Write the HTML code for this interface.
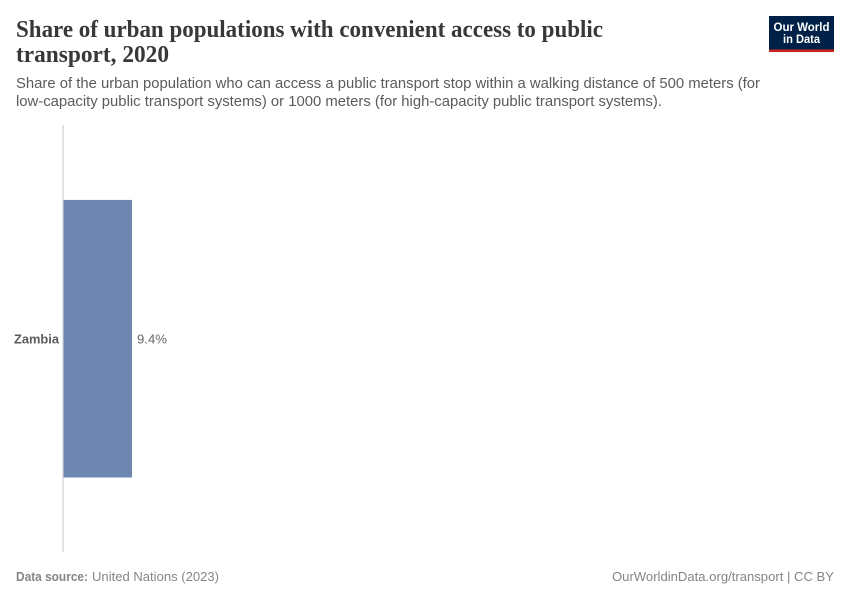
<!DOCTYPE html>
<html>
<head>
<meta charset="utf-8">
<title>Share of urban populations with convenient access to public transport, 2020</title>
<style>
html,body{margin:0;padding:0;background:#fff;width:850px;height:600px;overflow:hidden}
svg{display:block}
text{font-family:"Liberation Sans",sans-serif}
.title{font-family:"Liberation Serif",serif;font-weight:700;font-size:24px;fill:#383838}
.sub{font-size:14.4px;fill:#5b5b5b}
.foot{font-size:13px;fill:#858585}
</style>
</head>
<body>
<svg id="chart" xmlns="http://www.w3.org/2000/svg" width="850" height="600" viewBox="0 0 850 600">
<rect x="0" y="0" width="850" height="600" fill="#ffffff"/>
<text class="title" x="16" y="37" textLength="587" lengthAdjust="spacingAndGlyphs">Share of urban populations with convenient access to public</text>
<text class="title" x="16" y="62" textLength="153" lengthAdjust="spacingAndGlyphs">transport, 2020</text>
<text class="sub" x="16" y="88" textLength="744" lengthAdjust="spacingAndGlyphs">Share of the urban population who can access a public transport stop within a walking distance of 500 meters (for</text>
<text class="sub" x="16" y="106" textLength="646" lengthAdjust="spacingAndGlyphs">low-capacity public transport systems) or 1000 meters (for high-capacity public transport systems).</text>
<g>
<rect x="769" y="16" width="65" height="36" fill="#002147"/>
<rect x="769" y="49.5" width="65" height="2.5" fill="#ce261e"/>
<text x="801.5" y="31" text-anchor="middle" font-size="12" font-weight="700" fill="#ffffff" textLength="56" lengthAdjust="spacingAndGlyphs">Our World</text>
<text x="801.5" y="43" text-anchor="middle" font-size="12" font-weight="700" fill="#ffffff" textLength="37" lengthAdjust="spacingAndGlyphs">in Data</text>
</g>
<g id="plot"></g>
<text class="foot" x="16" y="581" font-weight="700" textLength="72" lengthAdjust="spacingAndGlyphs">Data source:</text>
<text class="foot" x="92" y="581" textLength="127" lengthAdjust="spacingAndGlyphs">United Nations (2023)</text>
<text class="foot" x="612" y="581" textLength="222" lengthAdjust="spacingAndGlyphs">OurWorldinData.org/transport | CC BY</text>
</svg>
<script>
const categories = ["Zambia"];
const seriesValues = [9.4];
const valueLabels = ["9.4%"];

const NS = "http://www.w3.org/2000/svg";
const plot = document.getElementById("plot");
const axisLeft = 63.5, axisTop = 125, axisBottom = 552;
const domainMax = 100, rangeWidth = 728.7;
const bandStep = (axisBottom - axisTop) / categories.length;
const bandFill = 0.65;
function xScale(v) { return axisLeft + (v / domainMax) * rangeWidth; }
function yBand(i) { return axisTop + bandStep * i + bandStep / 2; }

const axisLine = document.createElementNS(NS, "line");


axisLine.setAttribute("x1", axisLeft - 0.5);
axisLine.setAttribute("x2", axisLeft - 0.5);
axisLine.setAttribute("y1", axisTop);
axisLine.setAttribute("y2", axisBottom);
axisLine.setAttribute("stroke", "#dadada");
axisLine.setAttribute("stroke-width", "1.5");
plot.appendChild(axisLine);

categories.forEach(function (cat, i) {
  const cy = yBand(i);
  const h = bandStep * bandFill;
  const bar = document.createElementNS(NS, "rect");
  
  
  bar.setAttribute("x", xScale(0));
  bar.setAttribute("y", cy - h / 2 + 0.2);
  bar.setAttribute("width", xScale(seriesValues[i]) - xScale(0));
  bar.setAttribute("height", h);
  bar.setAttribute("fill", "#6d87b0");
  plot.appendChild(bar);

  const label = document.createElementNS(NS, "text");
  
  
  label.setAttribute("x", 59);
  label.setAttribute("y", cy + 5);
  label.setAttribute("text-anchor", "end");
  label.setAttribute("font-size", "12.5");
  label.setAttribute("font-weight", "700");
  label.setAttribute("fill", "#5b5b5b");
  label.setAttribute("textLength", "45");
  label.setAttribute("lengthAdjust", "spacingAndGlyphs");
  label.textContent = cat;
  plot.appendChild(label);

  const val = document.createElementNS(NS, "text");
  
  
  val.setAttribute("x", xScale(seriesValues[i]) + 5);
  val.setAttribute("y", cy + 5);
  val.setAttribute("font-size", "13");
  val.setAttribute("fill", "#666666");
  val.setAttribute("textLength", "30");
  val.setAttribute("lengthAdjust", "spacingAndGlyphs");
  val.textContent = valueLabels[i];
  plot.appendChild(val);
});
</script>
</body>
</html>
